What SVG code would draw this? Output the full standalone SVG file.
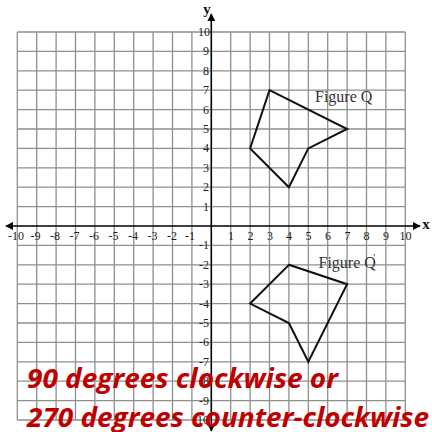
<svg xmlns="http://www.w3.org/2000/svg" width="432" height="432" viewBox="0 0 432 432">
<defs>
<style>
.grid{stroke:#8f8f8f;stroke-width:1.3;fill:none}
.axis{stroke:#000;stroke-width:1.6;fill:none}
.fig{stroke:#111;stroke-width:2;fill:none;stroke-linejoin:miter}
.tick{font-family:"Liberation Serif",serif;font-size:12px;fill:#222}
.tx{text-anchor:middle}
.ty{text-anchor:end}
.lbl{font-family:"Liberation Serif",serif;font-size:16px;fill:#333}
.ax{font-family:"Liberation Serif",serif;font-size:15px;font-weight:bold;fill:#111}
.red{font-family:"Open Sans","Noto Sans",sans-serif;font-size:26px;font-weight:bold;font-style:italic;fill:#C00000}
</style>
<marker id="arr" viewBox="0 0 10 10" refX="9" refY="5" markerWidth="5" markerHeight="5" orient="auto-start-reverse" markerUnits="strokeWidth">
<path d="M0,0 L10,5 L0,10 Z" fill="#000"/>
</marker>
</defs>
<rect width="432" height="432" fill="#fff"/>
<g id="grid">
<path class="grid" d="M17.3,32V420M36.7,32V420M56.1,32V420M75.5,32V420M94.9,32V420M114.3,32V420M133.7,32V420M153.1,32V420M172.5,32V420M191.9,32V420M230.7,32V420M250.1,32V420M269.5,32V420M288.9,32V420M308.3,32V420M327.7,32V420M347.1,32V420M366.5,32V420M385.9,32V420M405.3,32V420M17.3,32H405.3M17.3,51.4H405.3M17.3,70.8H405.3M17.3,90.2H405.3M17.3,109.6H405.3M17.3,129H405.3M17.3,148.4H405.3M17.3,167.8H405.3M17.3,187.2H405.3M17.3,206.6H405.3M17.3,245.4H405.3M17.3,264.8H405.3M17.3,284.2H405.3M17.3,303.6H405.3M17.3,323H405.3M17.3,342.4H405.3M17.3,361.8H405.3M17.3,381.2H405.3M17.3,400.6H405.3M17.3,420H405.3"/>
</g>
<g id="connectors">
<line class="axis" x1="6" y1="226" x2="420" y2="226" marker-start="url(#arr)" marker-end="url(#arr)"/>
<line class="axis" x1="211.3" y1="14" x2="211.3" y2="431" marker-start="url(#arr)" marker-end="url(#arr)"/>
</g>
<g id="axis-labels">
<text class="ax" x="207" y="14" text-anchor="middle">y</text>
<text class="ax" x="426" y="229" text-anchor="middle">x</text>
</g>
<g id="x-ticks" class="tick tx">
<text x="16" y="240">-10</text><text x="35.5" y="240">-9</text><text x="55" y="240">-8</text><text x="74.5" y="240">-7</text><text x="94" y="240">-6</text><text x="113.5" y="240">-5</text><text x="133" y="240">-4</text><text x="152.5" y="240">-3</text><text x="172" y="240">-2</text><text x="190" y="240">-1</text>
<text x="231" y="240">1</text><text x="250.5" y="240">2</text><text x="270" y="240">3</text><text x="289" y="240">4</text><text x="308.5" y="240">5</text><text x="328" y="240">6</text><text x="347.5" y="240">7</text><text x="366.5" y="240">8</text><text x="386" y="240">9</text><text x="405.5" y="240">10</text>
</g>
<g id="y-ticks" class="tick ty">
<text x="210" y="36">10</text><text x="209" y="55.4">9</text><text x="209" y="74.8">8</text><text x="209" y="94.2">7</text><text x="209" y="113.6">6</text><text x="209" y="133">5</text><text x="209" y="152.4">4</text><text x="209" y="171.8">3</text><text x="209" y="191.2">2</text><text x="209" y="210.6">1</text>
<text x="209" y="249.4">-1</text><text x="209" y="268.8">-2</text><text x="209" y="288.2">-3</text><text x="209" y="307.6">-4</text><text x="209" y="327">-5</text><text x="209" y="346.4">-6</text><text x="209" y="365.8">-7</text><text x="209" y="385.2">-8</text><text x="209" y="404.6">-9</text><text x="209" y="424">-10</text>
</g>
<g id="figure-q">
<polygon class="fig" points="269.5,90.2 347.1,129 308.3,148.4 288.9,187.2 250.1,148.4"/>
<text class="lbl" x="315" y="102">Figure Q</text>
</g>
<g id="figure-q-prime">
<polygon class="fig" points="288.9,264.8 347.1,284.2 308.3,361.8 288.9,323 250.1,303.6"/>
<text class="lbl" x="318.5" y="268">Figure Q<tspan dx="-2.5" dy="-7" font-size="11">'</tspan></text>
</g>
<g id="caption">
<text class="red" x="27" y="388" textLength="311" lengthAdjust="spacingAndGlyphs">90 degrees clockwise or</text>
<text class="red" x="27" y="427" textLength="402" lengthAdjust="spacingAndGlyphs">270 degrees counter-clockwise</text>
</g>
</svg>
